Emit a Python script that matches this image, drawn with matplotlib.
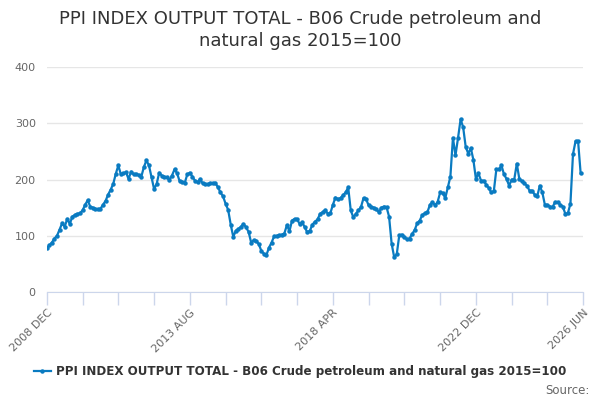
import numpy as np
import matplotlib
matplotlib.use("Agg")
import matplotlib.pyplot as plt
from matplotlib.lines import Line2D

# monthly index values, starting 2008 DEC
values = [78, 83, 88, 95, 100, 111, 122, 116, 130, 121,
          134, 137, 139, 140, 145, 155, 163, 152, 150, 148,
          147, 148, 155, 162, 173, 182, 192, 210, 225, 209,
          211, 213, 201, 214, 209, 210, 208, 205, 222, 234,
          225, 204, 183, 192, 212, 207, 205, 204, 199, 207,
          218, 211, 197, 196, 194, 209, 212, 205, 198, 195,
          201, 193, 192, 192, 193, 193, 194, 186, 177, 170,
          157, 146, 120, 98, 109, 112, 116, 121, 115, 107,
          88, 92, 91, 85, 73, 68, 66, 79, 88, 99,
          100, 101, 102, 104, 119, 108, 127, 130, 129, 121,
          124, 115, 106, 109, 120, 125, 129, 139, 142, 146,
          139, 140, 155, 168, 165, 167, 172, 177, 186, 145,
          133, 139, 145, 151, 167, 165, 154, 152, 150, 147,
          142, 150, 152, 151, 134, 86, 62, 67, 101, 102,
          97, 94, 95, 103, 110, 122, 127, 137, 140, 142,
          155, 160, 154, 160, 177, 176, 167, 186, 205, 274,
          243, 274, 307, 293, 258, 246, 256, 235, 201, 211,
          198, 198, 191, 185, 177, 179, 218, 218, 225, 209,
          201, 189, 200, 200, 228, 201, 197, 193, 189, 180,
          180, 173, 170, 189, 177, 155, 155, 152, 151, 160,
          160, 155, 152, 139, 140, 157, 245, 268, 268, 211]

tick_months = list(range(0, 211, 14))
label_months = [0, 56, 112, 168, 210]
label_text = ["2008 DEC", "2013 AUG", "2018 APR", "2022 DEC", "2026 JUN"]
y_ticks = [0, 100, 200, 300, 400]

title = "PPI INDEX OUTPUT TOTAL - B06 Crude petroleum and\nnatural gas 2015=100"
series_name = "PPI INDEX OUTPUT TOTAL - B06 Crude petroleum and natural gas 2015=100"

line_color = "#0a7bc1"

fig = plt.figure(figsize=(6, 4), dpi=100)
ax = fig.add_axes([0.078, 0.27, 0.894, 0.5625])

x = np.arange(len(values))
ax.plot(x, values, color=line_color, lw=1.6, marker="o", ms=2.2,
        mec=line_color, mfc=line_color)

ax.set_xlim(0, 210)
ax.set_ylim(0, 400)
ax.set_yticks(y_ticks)
ax.set_yticklabels([str(v) for v in y_ticks], color="#666666", fontsize=8)
ax.tick_params(axis="y", length=0, pad=8)

ax.set_xticks(tick_months)
ax.set_xticklabels([label_text[label_months.index(m)] if m in label_months else ""
                    for m in tick_months],
                   rotation=45, ha="right", rotation_mode="anchor",
                   color="#666666", fontsize=8)
ax.tick_params(axis="x", length=9, color="#ccd6eb", width=1, pad=2)

ax.grid(axis="y", color="#e6e6e6", lw=1)
ax.set_axisbelow(True)
for s in ["top", "right", "left"]:
    ax.spines[s].set_visible(False)
ax.spines["bottom"].set_color("#ccd6eb")

fig.text(0.5, 0.975, title, ha="center", va="top", fontsize=13, color="#333333",
         linespacing=1.25)

handle = Line2D([], [], color=line_color, lw=1.6, marker="o", ms=2.2)
fig.legend([handle], [series_name], loc="center", bbox_to_anchor=(0.5, 0.07),
           frameon=False, prop={"size": 8.6, "weight": "bold"},
           labelcolor="#333333", handlelength=1.4, handletextpad=0.4)

fig.text(0.983, 0.025, "Source:", ha="right", va="center", fontsize=8.5, color="#666666")

fig.savefig("out.png", dpi=100)
